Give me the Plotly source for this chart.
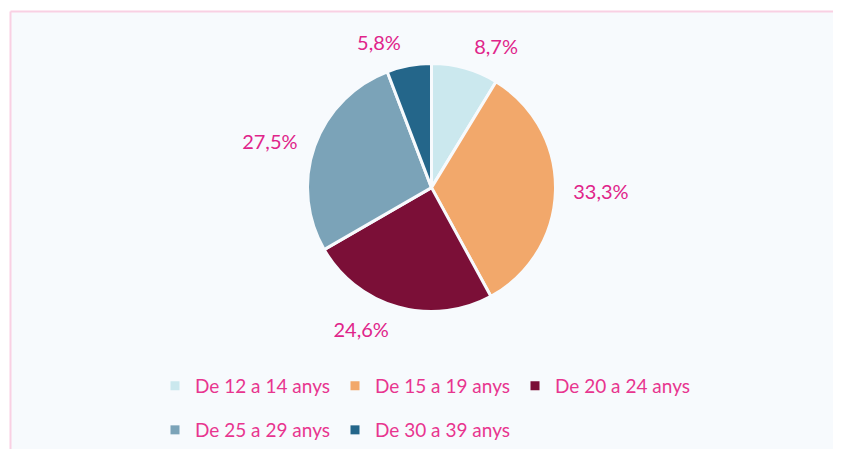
import plotly.graph_objects as go

categories = ["De 12 a 14 anys", "De 15 a 19 anys", "De 20 a 24 anys",
              "De 25 a 29 anys", "De 30 a 39 anys"]
values = [8.7, 33.3, 24.6, 27.5, 5.8]
labels_text = ["8,7%", "33,3%", "24,6%", "27,5%", "5,8%"]
colors = ["#CBE8EE", "#F2A86B", "#7B0F37", "#7BA3B8", "#24668A"]
legend_rows = ["legend", "legend", "legend", "legend2", "legend2"]

# the page body has an 8px margin; keep the figure inside the window
OFF = 8
W, H = 841 - OFF, 461 - OFF - 12
BG = "#F7FAFD"
PINK = "#F9D0E3"
cx, cy, r = 431.5 - OFF, 190.5 - OFF, 126   # visible pie (figure coords)
r_lab = 138                                 # radius for outside labels


def dom(rad):
    return dict(x=[(cx - rad) / W, (cx + rad) / W],
                y=[(H - cy - rad) / H, (H - cy + rad) / H])


fig = go.Figure()

# visible pie
fig.add_trace(go.Pie(
    labels=categories, values=values, sort=False, direction="clockwise",
    rotation=0, textinfo="none",
    marker=dict(colors=colors, line=dict(color=BG, width=3)),
    domain=dom(r), showlegend=False, hoverinfo="skip",
))

# transparent companion pie carrying the outside percentage labels
fig.add_trace(go.Pie(
    labels=categories, values=values, sort=False, direction="clockwise",
    rotation=0, text=labels_text, textinfo="text", textposition="outside",
    marker=dict(colors=["rgba(0,0,0,0)"] * len(values), line=dict(width=0)),
    outsidetextfont=dict(family="Lato", size=20, color="#E0248A"),
    domain=dom(r_lab), showlegend=False, hoverinfo="skip",
))

# legend entries
for cat, col, lg in zip(categories, colors, legend_rows):
    fig.add_trace(go.Scatter(
        x=[None], y=[None], mode="markers", name=cat,
        marker=dict(symbol="square", size=9, color=col),
        legend=lg, hoverinfo="skip",
    ))

# white strips above / left of the panel and the pink panel border
xl = (10.5 - OFF) / W
yt = (H - (11.5 - OFF)) / H
fig.add_shape(type="rect", xref="paper", yref="paper", x0=-0.1, x1=1.1,
              y0=yt, y1=1.1, fillcolor="white", line=dict(width=0),
              layer="below")
fig.add_shape(type="rect", xref="paper", yref="paper", x0=-0.1, x1=xl,
              y0=-0.1, y1=1.1, fillcolor="white", line=dict(width=0),
              layer="below")
fig.add_shape(type="line", xref="paper", yref="paper", x0=xl, x1=1.1,
              y0=yt, y1=yt, line=dict(color=PINK, width=2), layer="below")
fig.add_shape(type="line", xref="paper", yref="paper", x0=xl, x1=xl,
              y0=-0.1, y1=yt, line=dict(color=PINK, width=2), layer="below")

legend_common = dict(orientation="h", xanchor="left", yanchor="middle",
                     font=dict(family="Lato", size=19, color="#E8358F"),
                     entrywidth=135, entrywidthmode="pixels",
                     bgcolor="rgba(0,0,0,0)", traceorder="normal")

fig.update_layout(
    width=W, height=H,
    margin=dict(l=0, r=0, t=0, b=0),
    paper_bgcolor=BG,
    plot_bgcolor="rgba(0,0,0,0)",
    xaxis=dict(visible=False),
    yaxis=dict(visible=False),
    showlegend=True,
    legend=dict(x=(155 - OFF) / W, y=(H - (392 - OFF)) / H, **legend_common),
    legend2=dict(x=(155 - OFF) / W, y=(H - (437 - OFF)) / H, **legend_common),
)

fig.write_html("out.html")
